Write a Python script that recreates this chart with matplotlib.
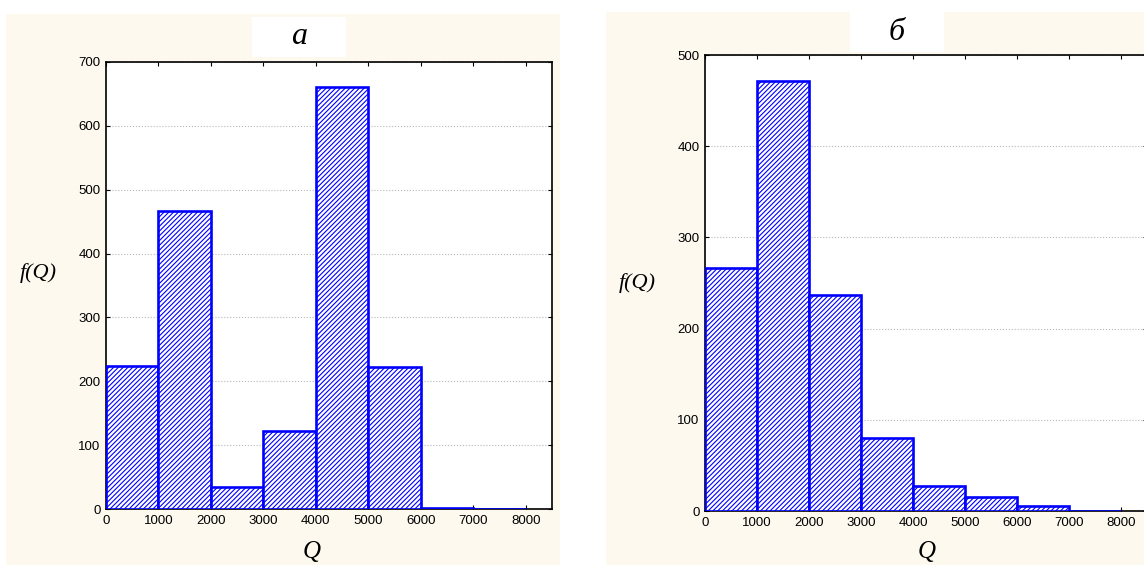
import matplotlib
matplotlib.use("Agg")
import matplotlib.pyplot as plt
from matplotlib.patches import Rectangle

# bin edges shared by both histograms (Q)
bin_left = [0, 1000, 2000, 3000, 4000, 5000, 6000, 7000]
bin_width = 1000

# panel а
counts_a = [224, 467, 34, 122, 661, 222, 2, 0]
# panel б
counts_b = [266, 472, 237, 80, 27, 15, 6, 0]

xticks = [0, 1000, 2000, 3000, 4000, 5000, 6000, 7000, 8000]
yticks_a = [0, 100, 200, 300, 400, 500, 600, 700]
yticks_b = [0, 100, 200, 300, 400, 500]

W, H = 1144, 565
cream = "#fdf9ef"
blue = "#0000ff"

plt.rcParams["hatch.color"] = "#5050ff"
plt.rcParams["hatch.linewidth"] = 0.8

fig = plt.figure(figsize=(W / 100, H / 100), dpi=100)
fig.patch.set_facecolor("white")


def px_rect(x0, y0, x1, y1):
    # pixel box (top-left origin) -> figure fraction [l, b, w, h]
    return [x0 / W, 1 - y1 / H, (x1 - x0) / W, (y1 - y0) / H]


def panel(bg, box, ax_box, counts, yticks, ymax, title, title_xy, ylab_xy, xlab_xy):
    l, b, w, h = px_rect(*bg)
    fig.patches.append(Rectangle((l, b), w, h, transform=fig.transFigure,
                                 facecolor=cream, edgecolor="none", zorder=-2))
    l, b, w, h = px_rect(*box)
    fig.patches.append(Rectangle((l, b), w, h, transform=fig.transFigure,
                                 facecolor="white", edgecolor="none", zorder=-1))
    fig.text(title_xy[0] / W, 1 - title_xy[1] / H, title, ha="center", va="center",
             fontsize=23, style="italic", family="Liberation Serif")

    ax = fig.add_axes(px_rect(*ax_box))
    ax.bar(bin_left, counts, width=bin_width, align="edge", facecolor="white",
           edgecolor=blue, linewidth=1.9, hatch="///////", zorder=3)
    ax.set_xlim(0, 8500)
    ax.set_ylim(0, ymax)
    ax.set_xticks(xticks)
    ax.set_yticks(yticks)
    ax.tick_params(direction="in", top=True, right=True, labelsize=9.5, length=3, pad=4)
    for lab in ax.get_xticklabels() + ax.get_yticklabels():
        lab.set_family("Liberation Sans")
    ax.grid(axis="y", color="#b8b8b8", linestyle=":", linewidth=0.8, zorder=0)
    for s in ax.spines.values():
        s.set_linewidth(1.2)
    ax.set_axisbelow(True)

    fig.text(ylab_xy[0] / W, 1 - ylab_xy[1] / H, "f(Q)", ha="center", va="center",
             fontsize=16, style="italic", family="Liberation Serif")
    fig.text(xlab_xy[0] / W, 1 - xlab_xy[1] / H, "Q", ha="center", va="center",
             fontsize=18, style="italic", family="Liberation Serif")
    return ax


panel((6, 14, 560, 565), (252, 17, 346, 57), (106, 62, 552, 509),
      counts_a, yticks_a, 700, "а", (299, 37), (38, 273), (312, 552))
panel((606, 12, 1144, 565), (850, 12, 944, 52), (705, 55, 1147, 511),
      counts_b, yticks_b, 500, "б", (897, 32), (637, 283), (927, 552))

fig.savefig("out.png", dpi=100)
